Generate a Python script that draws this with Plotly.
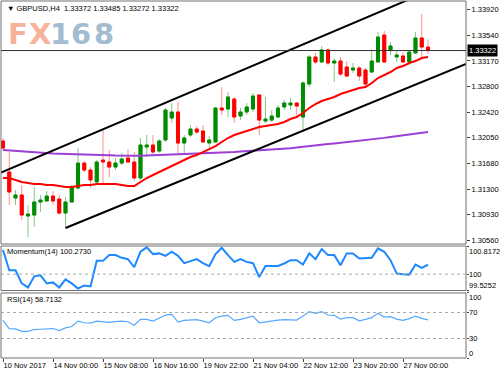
import plotly.graph_objects as go

# ---------------- data ----------------
bar_index = list(range(69))
tick_positions = [0, 8, 16, 24, 32, 40, 48, 56, 64]
tick_labels = ["10 Nov 2017", "14 Nov 00:00", "15 Nov 08:00", "16 Nov 16:00",
               "19 Nov 22:00", "21 Nov 04:00", "22 Nov 12:00", "23 Nov 20:00",
               "27 Nov 00:00"]

opens = [1.32003, 1.31551, 1.31172, 1.31216, 1.30910, 1.30924, 1.31114, 1.31129, 1.31201, 1.31158,
         1.30954, 1.31114, 1.31318, 1.31682, 1.31580, 1.31406, 1.31726, 1.31697, 1.31624, 1.31682,
         1.31755, 1.31697, 1.31464, 1.31916, 1.31945, 1.31857, 1.32018, 1.32338, 1.32426, 1.31974,
         1.32091, 1.32178, 1.32149, 1.31974, 1.31989, 1.32484, 1.32470, 1.32615, 1.32368, 1.32426,
         1.32470, 1.32674, 1.32295, 1.32309, 1.32353, 1.32499, 1.32528, 1.32557, 1.32353, 1.32834,
         1.33228, 1.33155, 1.33330, 1.33140, 1.33169, 1.33082, 1.33038, 1.33067, 1.33038, 1.33009,
         1.33155, 1.33548, 1.33330, 1.33228, 1.33242, 1.33155, 1.33286, 1.33505, 1.33372]
highs = [1.32047, 1.31843, 1.31289, 1.31362, 1.31070, 1.31333, 1.31216, 1.31274, 1.31274, 1.31216,
         1.31187, 1.31362, 1.31901, 1.31712, 1.31624, 1.31726, 1.32164, 1.31872, 1.31755, 1.31828,
         1.31887, 1.31843, 1.32047, 1.32091, 1.32091, 1.32032, 1.32484, 1.32557, 1.32572, 1.32091,
         1.32236, 1.32222, 1.32236, 1.32076, 1.32499, 1.32790, 1.32717, 1.32645, 1.32484, 1.32557,
         1.32703, 1.32688, 1.32645, 1.32455, 1.32528, 1.32601, 1.32630, 1.32572, 1.32878, 1.33257,
         1.33286, 1.33388, 1.33359, 1.33213, 1.33228, 1.33169, 1.33140, 1.33096, 1.33067, 1.33330,
         1.33592, 1.33607, 1.33446, 1.33330, 1.33300, 1.33330, 1.33592, 1.33854, 1.33485]
lows = [1.31872, 1.31070, 1.31070, 1.30852, 1.30604, 1.30750, 1.30968, 1.31114, 1.31070, 1.30924,
        1.30735, 1.31099, 1.31289, 1.31551, 1.31318, 1.31391, 1.31362, 1.31478, 1.31580, 1.31653,
        1.31682, 1.31420, 1.31435, 1.31799, 1.31814, 1.31828, 1.31989, 1.32266, 1.31799, 1.31828,
        1.32062, 1.32105, 1.31974, 1.31872, 1.31974, 1.32382, 1.32353, 1.32266, 1.32309, 1.32382,
        1.32426, 1.32091, 1.32266, 1.32280, 1.32338, 1.32455, 1.32455, 1.32353, 1.32134, 1.32790,
        1.33126, 1.33140, 1.33111, 1.32863, 1.32951, 1.32936, 1.32994, 1.32878, 1.32805, 1.32994,
        1.33155, 1.33140, 1.33257, 1.33155, 1.33140, 1.33111, 1.33271, 1.33228, 1.33272]
closes = [1.31901, 1.31260, 1.31216, 1.30924, 1.30939, 1.31114, 1.31143, 1.31201, 1.31129, 1.30954,
          1.31114, 1.31333, 1.31682, 1.31580, 1.31435, 1.31697, 1.31697, 1.31624, 1.31682, 1.31741,
          1.31697, 1.31464, 1.31945, 1.31945, 1.31843, 1.32003, 1.32455, 1.32426, 1.31974, 1.32047,
          1.32178, 1.32134, 1.31989, 1.32018, 1.32484, 1.32455, 1.32645, 1.32353, 1.32426, 1.32499,
          1.32659, 1.32309, 1.32324, 1.32368, 1.32484, 1.32557, 1.32557, 1.32513, 1.32849, 1.33228,
          1.33155, 1.33330, 1.33140, 1.33169, 1.32980, 1.32951, 1.33067, 1.32951, 1.32834, 1.33169,
          1.33519, 1.33155, 1.33388, 1.33257, 1.33155, 1.33300, 1.33505, 1.33373, 1.33322]

ma_fast = [1.31464, 1.31464, 1.31435, 1.31406, 1.31391, 1.31377, 1.31377, 1.31362, 1.31362, 1.31347,
           1.31333, 1.31333, 1.31347, 1.31362, 1.31362, 1.31377, 1.31377, 1.31377, 1.31377, 1.31362,
           1.31347, 1.31347, 1.31406, 1.31464, 1.31508, 1.31551, 1.31595, 1.31639, 1.31682, 1.31726,
           1.31770, 1.31799, 1.31843, 1.31887, 1.31930, 1.31989, 1.32047, 1.32091, 1.32120, 1.32149,
           1.32178, 1.32207, 1.32222, 1.32236, 1.32251, 1.32280, 1.32324, 1.32353, 1.32411, 1.32484,
           1.32542, 1.32586, 1.32615, 1.32645, 1.32688, 1.32717, 1.32747, 1.32776, 1.32790, 1.32849,
           1.32922, 1.32965, 1.33009, 1.33067, 1.33096, 1.33140, 1.33169, 1.33213, 1.33228]
ma_slow = [1.31872, 1.31865, 1.31857, 1.31850, 1.31843, 1.31836, 1.31828, 1.31824, 1.31821, 1.31818,
           1.31814, 1.31814, 1.31811, 1.31810, 1.31806, 1.31803, 1.31799, 1.31796, 1.31793, 1.31790,
           1.31789, 1.31789, 1.31790, 1.31792, 1.31795, 1.31798, 1.31801, 1.31803, 1.31806, 1.31810,
           1.31812, 1.31814, 1.31817, 1.31821, 1.31825, 1.31831, 1.31837, 1.31843, 1.31849, 1.31854,
           1.31860, 1.31866, 1.31869, 1.31872, 1.31879, 1.31887, 1.31897, 1.31908, 1.31920, 1.31930,
           1.31940, 1.31949, 1.31959, 1.31968, 1.31977, 1.31986, 1.31996, 1.32006, 1.32015, 1.32025,
           1.32037, 1.32049, 1.32062, 1.32074, 1.32084, 1.32097, 1.32109, 1.32122, 1.32134]

momentum = [100.6997, 100.1125, 100.1125, 99.7307, 99.6133, 99.9363, 99.9657, 99.7307, 99.7601, 99.6133,
            99.8482, 99.7307, 99.5839, 99.6720, 99.6427, 100.3856, 100.3856, 100.5529, 100.5529, 100.4737,
            100.4355, 100.2006, 100.6498, 100.7790, 100.5823, 100.6029, 100.5324, 100.6498, 100.5324, 100.3180,
            100.3768, 100.4355, 100.3180, 100.2299, 100.5823, 100.7673, 100.5529, 100.3562, 100.4355, 100.3562,
            100.3180, 99.9157, 100.2387, 100.2387, 100.2387, 100.3092, 100.4061, 100.4061, 100.2799, 100.6029,
            100.4355, 100.7291, 100.5529, 100.5529, 100.2593, 100.6029, 100.6029, 100.4560, 100.4560, 100.4737,
            100.7497, 100.6498, 100.4061, 100.0156, 99.9950, 99.9862, 100.2799, 100.1800, 100.2730]
rsi = [57.8, 45.3, 44.8, 41.1, 41.1, 43.8, 44.2, 45.3, 45.3, 42.2,
       46.4, 48.4, 56.7, 54.2, 53.6, 56.7, 55.8, 54.7, 55.8, 56.7,
       55.8, 50.5, 59.4, 59.4, 56.7, 62.0, 66.1, 67.2, 55.2, 57.8,
       58.9, 58.9, 56.7, 54.2, 62.0, 64.5, 65.6, 57.8, 59.4, 62.0,
       64.5, 54.2, 55.8, 56.7, 58.3, 58.9, 58.9, 58.3, 64.5, 71.4,
       68.8, 71.4, 66.1, 65.6, 59.8, 62.0, 62.0, 57.3, 59.4, 62.0,
       68.8, 63.0, 63.6, 59.8, 57.8, 60.5, 64.5, 60.9, 58.7132]

price_ticks = [1.33920, 1.33540, 1.33170, 1.32800, 1.32420, 1.32050, 1.31680, 1.31300, 1.30930, 1.30560]
momentum_scale = [99.5252, 100.0, 100.8172]
rsi_levels = [30, 70]

# channel anchor points (bar index, price)
upper_channel = [(0, 1.31557), (60, 1.33875)]
lower_channel = [(10, 1.30735), (68, 1.32901)]

symbol = "GBPUSD,H4"
momentum_name = "Momentum(14)"
rsi_name = "RSI(14)"

# ---------------- styling ----------------
FONT = "Liberation Sans, Arial, sans-serif"
FS = 7.5
UP_BODY, UP_WICK = "#008c00", "#86c886"
DN_BODY, DN_WICK = "#ff0000", "#ff8f8f"
X_RANGE = [-0.32, 74.08]

fig = go.Figure()

# wicks (light) + bodies (strong)
fig.add_trace(go.Candlestick(
    x=bar_index, open=opens, high=highs, low=lows, close=closes,
    increasing=dict(line=dict(color=UP_WICK, width=1), fillcolor=UP_WICK),
    decreasing=dict(line=dict(color=DN_WICK, width=1), fillcolor=DN_WICK),
    whiskerwidth=0, hoverinfo="skip", showlegend=False))
body_hi = [max(o, c) for o, c in zip(opens, closes)]
body_lo = [min(o, c) for o, c in zip(opens, closes)]
fig.add_trace(go.Candlestick(
    x=bar_index, open=opens, high=body_hi, low=body_lo, close=closes,
    increasing=dict(line=dict(color=UP_BODY, width=1), fillcolor=UP_BODY),
    decreasing=dict(line=dict(color=DN_BODY, width=1), fillcolor=DN_BODY),
    whiskerwidth=0, hoverinfo="skip", showlegend=False))

fig.add_trace(go.Scatter(x=bar_index, y=ma_slow, mode="lines",
                         line=dict(color="#9b3fd6", width=2), hoverinfo="skip", showlegend=False))
fig.add_trace(go.Scatter(x=bar_index, y=ma_fast, mode="lines",
                         line=dict(color="#ff0000", width=2), hoverinfo="skip", showlegend=False))


def channel(points, x_start, x_end):
    (xa, ya), (xb, yb) = points
    slope = (yb - ya) / (xb - xa)
    return [x_start, x_end], [ya + slope * (x_start - xa), ya + slope * (x_end - xa)]


ux, uy = channel(upper_channel, X_RANGE[0], X_RANGE[1])
lx, ly = channel(lower_channel, lower_channel[0][0], X_RANGE[1])
for cx, cy in ((ux, uy), (lx, ly)):
    fig.add_trace(go.Scatter(x=cx, y=cy, mode="lines", line=dict(color="black", width=2),
                             hoverinfo="skip", showlegend=False))

fig.add_trace(go.Scatter(x=bar_index, y=momentum, yaxis="y2", mode="lines",
                         line=dict(color="#1e88ff", width=2), hoverinfo="skip", showlegend=False))
fig.add_trace(go.Scatter(x=bar_index, y=rsi, yaxis="y3", mode="lines",
                         line=dict(color="#55a8ff", width=1.2), hoverinfo="skip", showlegend=False))

BORDER = "#707070"
shapes = []
for ref in ("y domain", "y2 domain", "y3 domain"):
    shapes.append(dict(type="rect", xref="paper", yref=ref, x0=0, x1=1, y0=0, y1=1,
                       line=dict(color=BORDER, width=1), layer="above"))
last_close = closes[-1]
shapes.append(dict(type="line", xref="paper", yref="y", x0=0, x1=1, y0=last_close, y1=last_close,
                   line=dict(color="#303030", width=1)))
shapes.append(dict(type="line", xref="paper", yref="y2", x0=0, x1=1, y0=100, y1=100,
                   line=dict(color="#a8a8a8", width=1, dash="dot")))
for lv in rsi_levels:
    shapes.append(dict(type="line", xref="paper", yref="y3", x0=0, x1=1, y0=lv, y1=lv,
                       line=dict(color="#a8a8a8", width=1, dash="dot")))

tf = dict(family=FONT, size=FS, color="black")
ann = []
header = "\u25BC\u00a0" + symbol + "\u00a0\u00a0" + " ".join(
    f"{v:.5f}" for v in (opens[-1], highs[-1], lows[-1], closes[-1]))
ann.append(dict(text=header, xref="paper", yref="paper", x=0, y=1, xanchor="left", yanchor="middle",
                xshift=4, yshift=-7, showarrow=False, font=tf))
# logo
logo = [("F", 18, "#f5b39a"), ("X", 40, "#f5b39a"), ("1", 60, "#a3bcd0"),
        ("6", 81, "#a3bcd0"), ("8", 104, "#a3bcd0")]
for ch, cx, col in logo:
    ann.append(dict(text="<b>" + ch + "</b>", xref="paper", yref="paper", x=0, y=1,
                    xanchor="center", yanchor="middle", xshift=cx - 1, yshift=-33,
                    showarrow=False, font=dict(family="DejaVu Sans, sans-serif", size=29, color=col)))
# current price box
ann.append(dict(text=f"{last_close:.5f}", xref="paper", yref="y", x=1, y=last_close,
                xanchor="left", yanchor="middle", xshift=1, showarrow=False,
                bgcolor="black", borderpad=1, font=dict(family=FONT, size=FS, color="white")))
# indicator captions
ann.append(dict(text=f"{momentum_name} {momentum[-1]:.4f}", xref="paper", yref="y2 domain", x=0, y=1,
                xanchor="left", yanchor="middle", xshift=4, yshift=-5, showarrow=False, font=tf))
ann.append(dict(text=f"{rsi_name} {rsi[-1]:.4f}", xref="paper", yref="y3 domain", x=0, y=1,
                xanchor="left", yanchor="middle", xshift=4, yshift=-7, showarrow=False, font=tf))
# right scale labels for indicators
mom_shift = {99.5252: 5, 100.0: 0, 100.8172: -5}
for v in momentum_scale:
    txt = "100" if v == 100.0 else f"{v:.4f}"
    ann.append(dict(text=txt, xref="paper", yref="y2", x=1, y=v, xanchor="left", yanchor="middle",
                    xshift=1, yshift=mom_shift[v], showarrow=False, font=tf))
rsi_shift = {0: 5, 30: 0, 70: 0, 100: -5}
for v in (0, 30, 70, 100):
    ann.append(dict(text=str(v), xref="paper", yref="y3", x=1, y=v, xanchor="left", yanchor="middle",
                    xshift=1, yshift=rsi_shift[v], showarrow=False, font=tf))

fig.update_layout(
    width=500, height=375, margin=dict(l=1, r=34, t=1, b=17),
    paper_bgcolor="white", plot_bgcolor="white", showlegend=False,
    hovermode=False, font=tf,
    xaxis=dict(domain=[0, 1], range=X_RANGE, anchor="y3", tickmode="array",
               tickvals=tick_positions, ticktext=tick_labels, ticks="outside", ticklen=3,
               tickcolor="#404040", ticklabelposition="outside right", tickangle=0, tickfont=tf,
               showgrid=False, zeroline=False, showline=False,
               rangeslider=dict(visible=False), fixedrange=True),
    yaxis=dict(domain=[0.3193, 1], range=[1.30502, 1.34044], side="right", anchor="x",
               tickmode="array", tickvals=price_ticks, ticktext=[f"{v:.5f}" for v in price_ticks],
               ticks="outside", ticklen=3, tickcolor="#404040", tickfont=tf,
               showgrid=False, zeroline=False, showline=False, fixedrange=True),
    yaxis2=dict(domain=[0.1891, 0.3137], range=[momentum_scale[0], momentum_scale[-1]], side="right",
                anchor="x", tickmode="array", tickvals=momentum_scale, showticklabels=False,
                ticks="outside", ticklen=2, tickcolor="#404040",
                showgrid=False, zeroline=False, showline=False, fixedrange=True),
    yaxis3=dict(domain=[0, 0.1821], range=[0, 100], side="right", anchor="x",
                tickmode="array", tickvals=[0, 30, 70, 100], showticklabels=False,
                ticks="outside", ticklen=2, tickcolor="#404040",
                showgrid=False, zeroline=False, showline=False, fixedrange=True),
    shapes=shapes, annotations=ann,
)

fig.write_html("out.html", config={"displayModeBar": False},
               post_script="document.body.style.margin='0px';document.body.style.overflow='hidden';")
